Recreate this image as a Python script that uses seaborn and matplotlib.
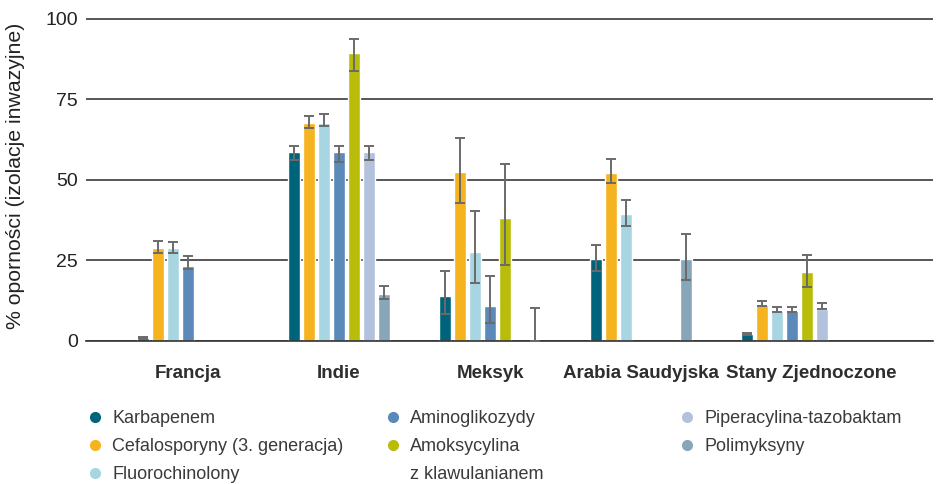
import numpy as np
import pandas as pd
import matplotlib
matplotlib.use("Agg")
import matplotlib.pyplot as plt
import matplotlib.transforms as mtransforms
from matplotlib.lines import Line2D
import seaborn as sns

countries = ["Francja", "Indie", "Meksyk", "Arabia Saudyjska", "Stany Zjednoczone"]
antibiotics = [
    "Karbapenem",
    "Cefalosporyny (3. generacja)",
    "Fluorochinolony",
    "Aminoglikozydy",
    "Amoksycylina z klawulanianem",
    "Piperacylina-tazobaktam",
    "Polimyksyny",
]
colors = ["#00637c", "#f5b31f", "#a8d5e2", "#5b89b9", "#b9bd0a", "#b3c2dc", "#87a6b8"]

# % resistance per country (None = no data), with lower / upper interval bounds
karbapenem = [1.0, 58.7, 14.0, 25.5, 2.1]
karbapenem_lo = [0.9, 56.1, 8.3, 21.7, 1.9]
karbapenem_hi = [1.3, 60.7, 21.8, 29.7, 2.4]

cefalosporyny = [29.0, 67.6, 52.5, 52.2, 11.1]
cefalosporyny_lo = [27.2, 66.0, 43.0, 49.0, 10.9]
cefalosporyny_hi = [31.0, 70.0, 62.9, 56.5, 12.5]

fluorochinolony = [29.0, 67.7, 27.6, 39.4, 9.3]
fluorochinolony_lo = [27.2, 66.7, 18.1, 35.7, 9.1]
fluorochinolony_hi = [30.7, 70.6, 40.5, 43.7, 10.6]

aminoglikozydy = [23.4, 58.7, 10.9, None, 9.3]
aminoglikozydy_lo = [22.3, 55.7, 5.6, None, 9.1]
aminoglikozydy_hi = [26.3, 60.7, 20.2, None, 10.6]

amoksycylina = [None, 89.4, 38.2, None, 21.4]
amoksycylina_lo = [None, 83.9, 23.5, None, 16.8]
amoksycylina_hi = [None, 93.9, 54.9, None, 26.7]

piperacylina = [None, 58.7, None, None, 9.9]
piperacylina_lo = [None, 56.1, None, None, 9.8]
piperacylina_hi = [None, 60.7, None, None, 11.7]

polimyksyny = [None, 14.6, 0.0, 25.5, None]
polimyksyny_lo = [None, 13.0, 0.0, 18.8, None]
polimyksyny_hi = [None, 17.2, 10.1, 33.3, None]

y_ticks = [0, 25, 50, 75, 100]

series = [
    (karbapenem, karbapenem_lo, karbapenem_hi),
    (cefalosporyny, cefalosporyny_lo, cefalosporyny_hi),
    (fluorochinolony, fluorochinolony_lo, fluorochinolony_hi),
    (aminoglikozydy, aminoglikozydy_lo, aminoglikozydy_hi),
    (amoksycylina, amoksycylina_lo, amoksycylina_hi),
    (piperacylina, piperacylina_lo, piperacylina_hi),
    (polimyksyny, polimyksyny_lo, polimyksyny_hi),
]

rows = []
for name, (vals, los, his) in zip(antibiotics, series):
    for country, v, lo, hi in zip(countries, vals, los, his):
        if v is not None:
            rows.append({"kraj": country, "antybiotyk": name, "opornosc": v, "lo": lo, "hi": hi})
df = pd.DataFrame(rows)

sns.set_theme(style="white")
plt.rcParams["font.family"] = ["Liberation Sans", "DejaVu Sans"]

DPI = 100
fig = plt.figure(figsize=(9.36, 4.84), dpi=DPI)
ax = fig.add_axes([0.0919, 0.2955, 0.905, 0.6719])

sns.barplot(
    data=df, x="kraj", y="opornosc", hue="antybiotyk",
    order=countries, hue_order=antibiotics, palette=colors,
    width=0.695, gap=0.2, errorbar=None, saturation=1,
    legend=False, ax=ax,
)

# interval whiskers on top of each bar
for name, container in zip(antibiotics, ax.containers):
    sub = df[df["antybiotyk"] == name].set_index("kraj")
    for bar in container:
        xc = bar.get_x() + bar.get_width() / 2
        country = countries[int(round(xc))]
        r = sub.loc[country]
        ax.errorbar(
            xc, r["opornosc"],
            yerr=[[r["opornosc"] - r["lo"]], [r["hi"] - r["opornosc"]]],
            fmt="none", ecolor="#6a6a6a", elinewidth=1.4,
            capsize=3.3, capthick=1.4, zorder=4,
        )

ax.set_xlim(-0.675, 4.934)
ax.set_ylim(0, 101)
ax.set_yticks(y_ticks)
ax.set_yticklabels([str(t) for t in y_ticks], fontsize=14, color="#222222")
ax.tick_params(axis="y", length=0, pad=6)

ax.set_axisbelow(True)
ax.yaxis.grid(True, color="#3a3a3a", linewidth=1.2)
ax.xaxis.grid(False)
for side in ["top", "right", "left"]:
    ax.spines[side].set_visible(False)
ax.spines["bottom"].set_color("#333333")
ax.spines["bottom"].set_linewidth(1.2)

ax.set_xticks(range(len(countries)))
ax.set_xticklabels(countries, fontsize=13.5, fontweight="bold", color="#2e2e2e")
ax.set_xticks(np.arange(0.5, len(countries) - 0.4, 1.0), minor=True)
ax.tick_params(axis="x", which="major", length=0, pad=17)
ax.tick_params(axis="x", which="minor", length=8.6, width=1.0, color="#333333", direction="out")
ax.set_xlabel("")
ax.set_ylabel("")

# last country label sits a bit to the right
lbl = ax.get_xticklabels()[-1]
lbl.set_transform(lbl.get_transform() + mtransforms.ScaledTranslation(19 / DPI, 0, fig.dpi_scale_trans))

fig.text(16 / 936, 1 - 176 / 484, "% oporności (izolacje inwazyjne)", rotation=90,
         ha="center", va="center", fontsize=15.3, color="#222222")

# legend in three columns
def handle(c):
    return Line2D([], [], marker="o", linestyle="none", markersize=7,
                  markerfacecolor=c, markeredgecolor=c)

blank = Line2D([], [], linestyle="none", marker=None)
columns = [
    ([0, 1, 2], 87),
    ([3, 4, None], 385),
    ([5, 6], 679),
]
for idx_list, x_px in columns:
    handles, labels = [], []
    for i in idx_list:
        if i is None:
            handles.append(blank)
            labels.append("z klawulanianem")
        elif i == 4:
            handles.append(handle(colors[i]))
            labels.append("Amoksycylina")
        else:
            handles.append(handle(colors[i]))
            labels.append(antibiotics[i])
    fig.legend(
        handles, labels, loc="upper left",
        bbox_to_anchor=(x_px / 936, 1 - 410 / 484),
        frameon=False, borderpad=0, borderaxespad=0,
        handlelength=0.9, handletextpad=0.5, labelspacing=0.62,
        prop={"size": 13}, labelcolor="#3a3a3a",
    )

fig.savefig("out.png", dpi=DPI)
